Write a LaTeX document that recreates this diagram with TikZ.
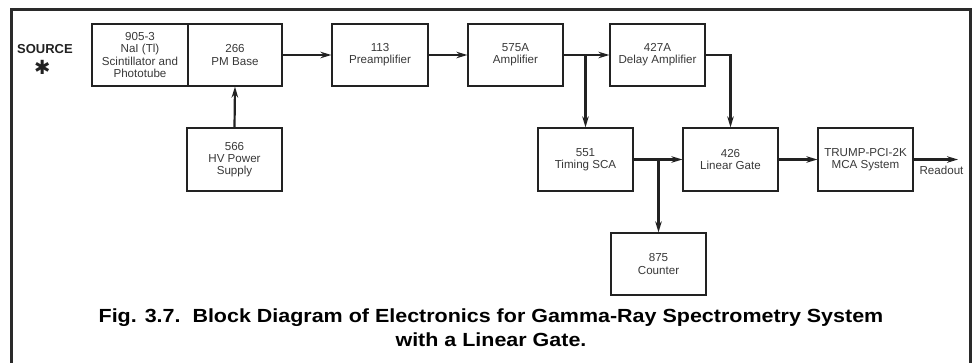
\documentclass[tikz,border=0pt]{standalone}
\usepackage{fontspec}
\setmainfont{Liberation Sans}
\newfontfamily\capfont[FakeStretch=1.13]{Liberation Sans}
\newfontfamily\symfont{DejaVu Sans}
\usetikzlibrary{arrows.meta}
\definecolor{ink}{HTML}{222222}
\definecolor{txt}{HTML}{383838}
\definecolor{framec}{HTML}{2A2A2A}
\tikzset{
  blk/.style={draw=ink, line width=1.2pt, rectangle, minimum width=95pt, minimum height=62pt,
    inner sep=0pt, align=center, text=txt, font=\fontsize{11.6}{12.2}\selectfont},
  arr/.style={draw=ink, line width=2.2pt, -{Stealth[length=11pt,width=6.5pt]}},
}
\begin{document}
\begin{tikzpicture}[x=1pt,y=-1pt]
\useasboundingbox (0,0) rectangle (974,362);
% frame
\draw[framec, line width=3pt] (11,364) -- (11,9) -- (970,9) -- (970,364);
% source
\node[font=\fontsize{13}{15}\bfseries\selectfont, text=ink] (src) at (45,49) {SOURCE};
\node[font=\symfont\fontsize{19.5}{19.5}\selectfont, text=ink, inner sep=0pt] (star) at (42.3,67.3) {✱};
% blocks
\node[blk, minimum width=96pt] (nai) at (140,55) {905-3\\NaI (Tl)\\Scintillator and\\Phototube};
\node[blk, minimum width=94pt] (pm) at (235,55) {266\\PM Base};
\node[blk, minimum height=63pt] (hv) at (234.5,159.5) {566\\HV Power\\Supply};
\node[blk, minimum width=96pt] (pre) at (380,55) {113\\Preamplifier};
\node[blk] (amp) at (515.5,55) {575A\\Amplifier};
\node[blk] (dly) at (657.5,55) {427A\\Delay Amplifier};
\node[blk, minimum height=63pt] (sca) at (585.5,159.5) {551\\Timing SCA};
\node[blk, minimum height=63pt] (gate) at (730.5,159.5) {426\\Linear Gate};
\node[blk, minimum height=63pt] (mca) at (865.5,159.5) {TRUMP-PCI-2K\\MCA System};
\node[blk] (cnt) at (658.5,264) {875\\Counter};
% connectors
\draw[arr] (hv.north) -- (pm.south);
\draw[arr] (pm.east) -- (pre.west);
\draw[arr] (pre.east) -- (amp.west);
\draw[arr] (amp.east) -- (dly.west);
\coordinate (b1) at (amp.east -| sca.north);
\draw[arr] (b1) -- (sca.north);
\draw[arr] (dly.east) -| (gate.north);
\draw[arr] (sca.east) -- (gate.west);
\coordinate (b2) at (sca.east -| cnt.north);
\draw[arr] (b2) -- (cnt.north);
\draw[arr] (gate.east) -- (mca.west);
\coordinate (out) at (958,159.5);
\draw[arr] (mca.east) -- (out);
\node[text=txt, font=\fontsize{11.6}{12}\selectfont] (ro) at (941.5,170.5) {Readout};
% caption
\node[font=\capfont\fontsize{19}{24}\bfseries\selectfont, align=center, text=black] (cap) at (491,328)
  {Fig. 3.7.\ \ Block Diagram of Electronics for Gamma-Ray Spectrometry System\\with a Linear Gate.};
\end{tikzpicture}
\end{document}
